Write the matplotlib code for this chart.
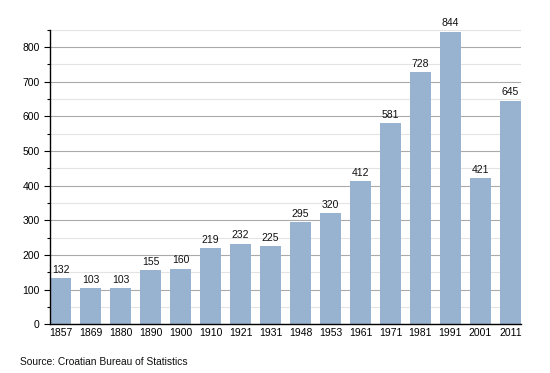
import matplotlib
matplotlib.use("Agg")
import matplotlib.pyplot as plt
from matplotlib.ticker import MultipleLocator

plt.rcParams['font.family'] = ['Liberation Sans', 'DejaVu Sans']

years = ["1857", "1869", "1880", "1890", "1900", "1910", "1921", "1931",
         "1948", "1953", "1961", "1971", "1981", "1991", "2001", "2011"]
population = [132, 103, 103, 155, 160, 219, 232, 225, 295, 320, 412, 581, 728, 844, 421, 645]

fig = plt.figure(figsize=(5.5, 3.73), dpi=100)
ax = fig.add_axes([0.091, 0.131, 0.856, 0.789])

bw = 0.7
x = list(range(len(years)))
ax.bar(x, population, width=bw, color="#98b3cf", zorder=2)
for xi, v in zip(x, population):
    ax.text(xi, v + 10, str(v), ha="center", va="bottom", fontsize=7.5, color="#111111")

ax.set_xlim(-bw / 2, len(years) - 1 + bw / 2)
ax.set_ylim(0, 850)
ax.set_xticks(x)
ax.set_xticklabels(years, fontsize=7.5)
ax.yaxis.set_major_locator(MultipleLocator(100))
ax.yaxis.set_minor_locator(MultipleLocator(50))
ax.tick_params(axis='y', labelsize=7.5, length=4, width=0.8, which='major')
ax.tick_params(axis='y', length=2.5, width=0.8, which='minor')
ax.tick_params(axis='x', length=0, pad=3)
ax.grid(axis='y', which='major', color="#aaaaaa", linewidth=0.8, zorder=0)
ax.grid(axis='y', which='minor', color="#e4e4e4", linewidth=0.8, zorder=0)
ax.set_axisbelow(True)
for s in ["top", "right"]:
    ax.spines[s].set_visible(False)
ax.spines["left"].set_linewidth(1.0)
ax.spines["bottom"].set_linewidth(1.0)

fig.text(20 / 550, 1 - 362 / 373, "Source: Croatian Bureau of Statistics",
         fontsize=7.4, va="center", ha="left", color="#111111")

fig.savefig("out.png", dpi=100)
